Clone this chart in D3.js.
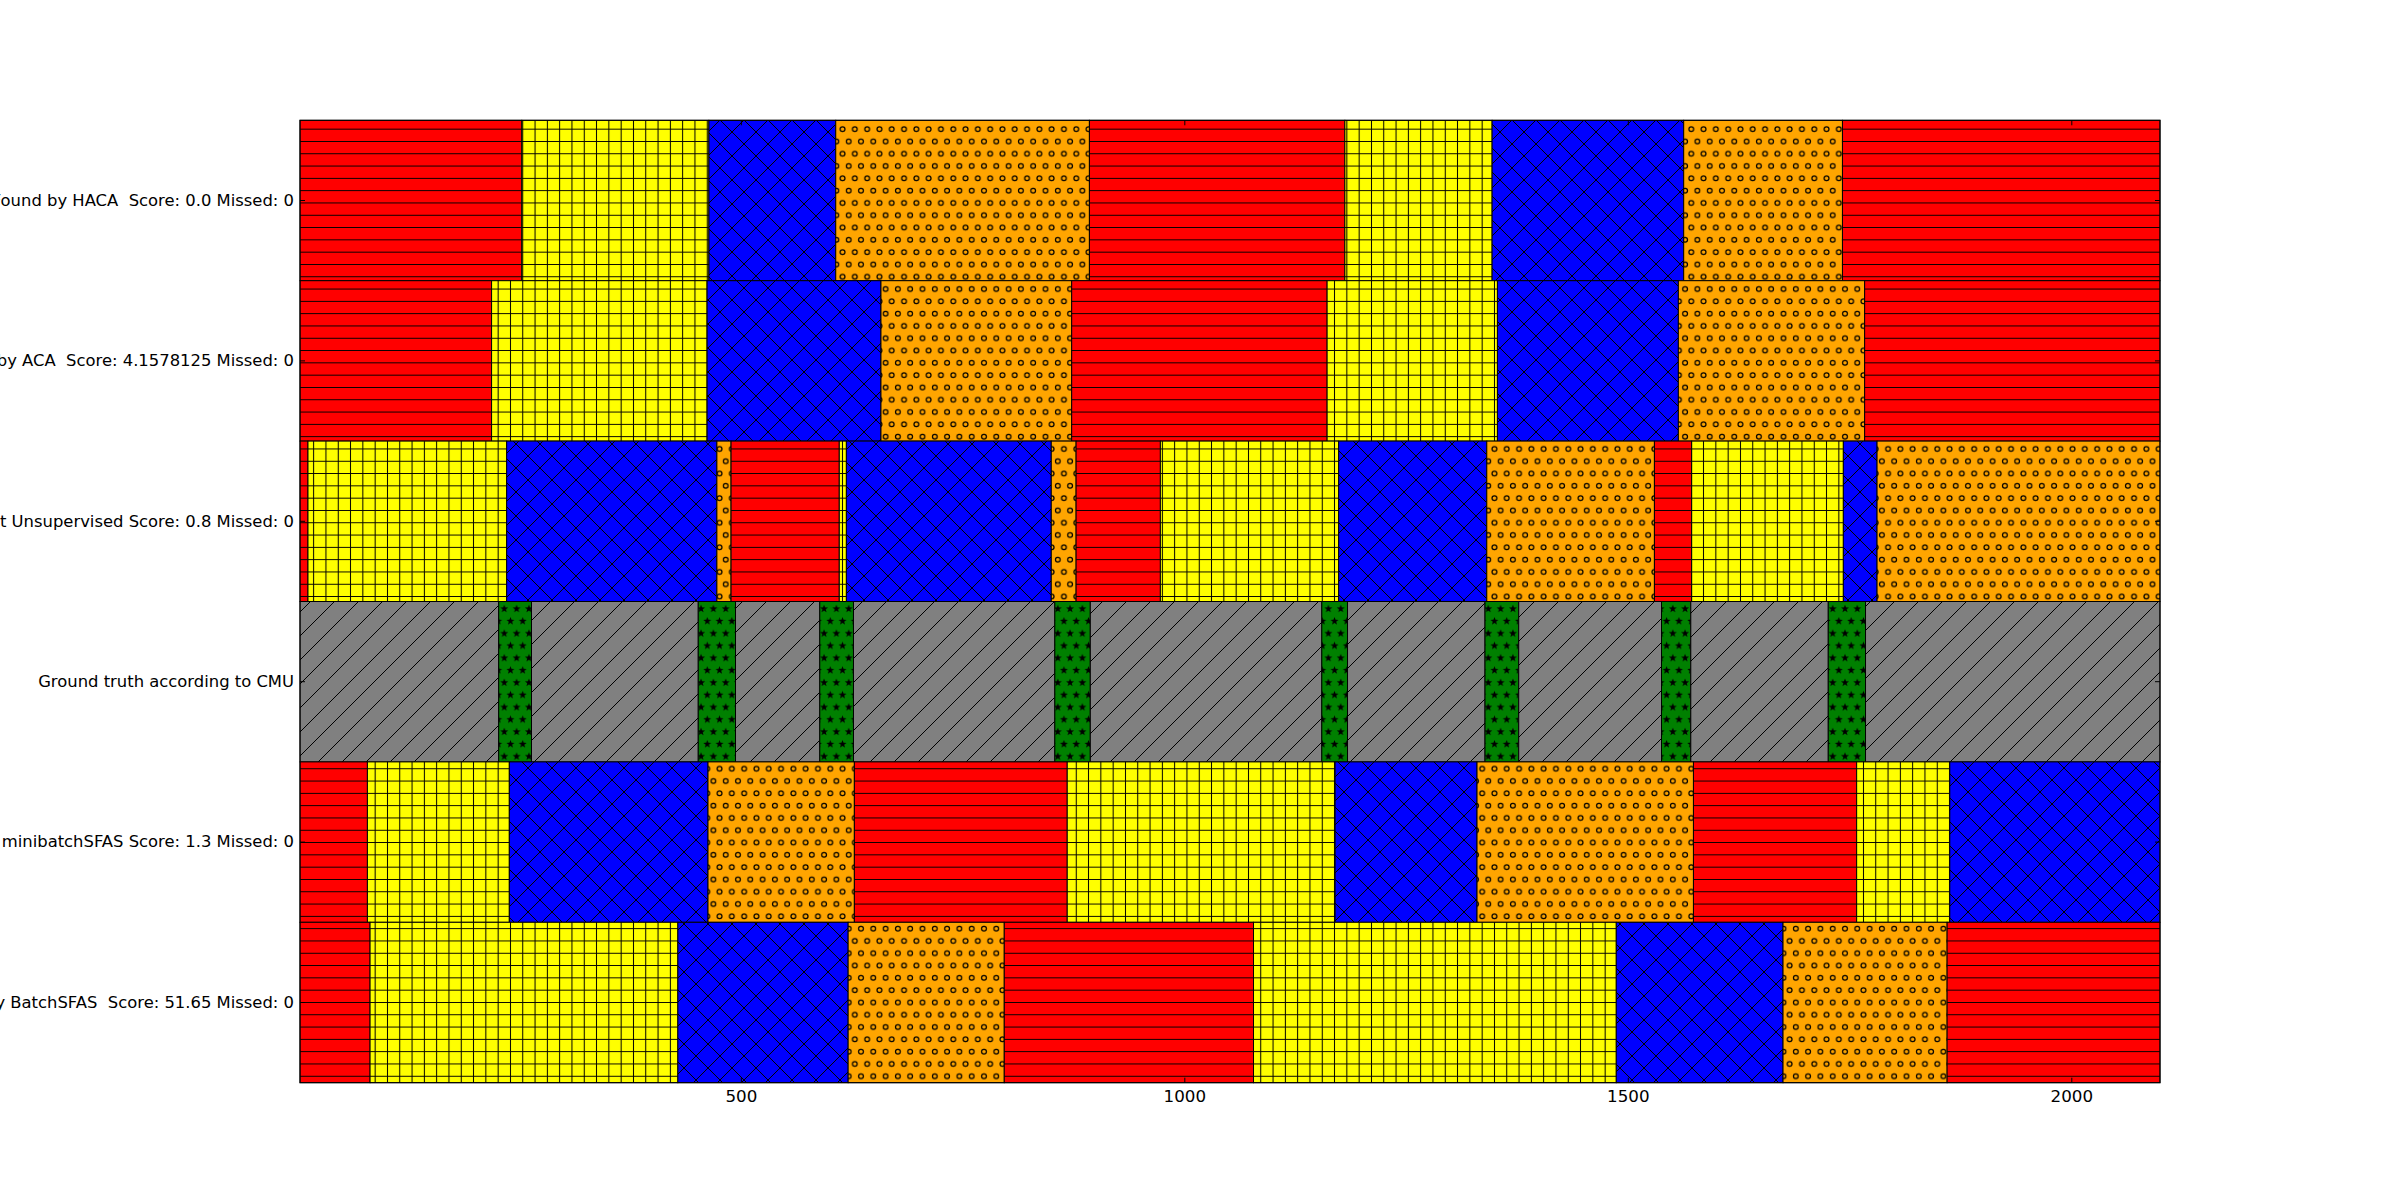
<!DOCTYPE html>
<html>
<head>
<meta charset="utf-8">
<script src="https://cdn.jsdelivr.net/npm/d3@7"></script>
<style>
  html, body { margin: 0; padding: 0; background: #fff; }
  svg { display: block; }
</style>
</head>
<body>
<svg id="chart" width="2400" height="1203"></svg>
<script>
// ---------------- data ----------------
const rowLabels = [
  "Found by HACA  Score: 0.0 Missed: 0",
  "Found by ACA  Score: 4.1578125 Missed: 0",
  "Found by Segment Unsupervised Score: 0.8 Missed: 0",
  "Ground truth according to CMU",
  "Found by minibatchSFAS Score: 1.3 Missed: 0",
  "Found by BatchSFAS  Score: 51.65 Missed: 0"
];
const xStart = 3;
const xEnd = 2100;
const xTicks = [500, 1000, 1500, 2000];

// segment end frames for each row (segments start where the previous one ends)
const hacaEnds = [253, 464, 607, 893, 1181, 1347, 1563, 1742, 2100];
const hacaClusters = [0, 1, 2, 3, 0, 1, 2, 3, 0];
const acaEnds = [219, 462, 658, 873, 1161, 1353, 1557, 1767, 2100];
const acaClusters = [0, 1, 2, 3, 0, 1, 2, 3, 0];
const unsupEnds = [12, 236, 473, 489, 611, 619, 850, 878, 973, 1174, 1341, 1530, 1572, 1743, 1781, 2100];
const unsupClusters = [0, 1, 2, 3, 0, 1, 2, 3, 0, 1, 2, 3, 0, 1, 2, 3];
const truthEnds = [227, 264, 452, 494, 589, 627, 854, 894, 1155, 1184, 1339, 1377, 1538, 1571, 1726, 1768, 2100];
const truthClasses = [4, 5, 4, 5, 4, 5, 4, 5, 4, 5, 4, 5, 4, 5, 4, 5, 4];
const miniEnds = [79, 239, 463, 628, 868, 1170, 1330, 1574, 1758, 1863, 2100];
const miniClusters = [0, 1, 2, 3, 0, 1, 2, 3, 0, 1, 2];
const batchEnds = [82, 429, 621, 797, 1078, 1487, 1675, 1860, 2100];
const batchClusters = [0, 1, 2, 3, 0, 1, 2, 3, 0];

const rowEnds = [hacaEnds, acaEnds, unsupEnds, truthEnds, miniEnds, batchEnds];
const rowClasses = [hacaClusters, acaClusters, unsupClusters, truthClasses, miniClusters, batchClusters];

// ---------------- styles ----------------
const classFill = ["#ff0000", "#ffff00", "#0000ff", "#ffa500", "#808080", "#008000"];
const classHatch = ["-", "+", "x", "o", "/", "*"];

const W = 2400, H = 1203;
const margin = { left: 300, right: 240, top: 120.3, bottom: 120.3 };
const svg = d3.select("#chart");

const x = d3.scaleLinear().domain([xStart, xEnd]).range([margin.left, W - margin.right]);
const y = d3.scaleBand().domain(rowLabels).range([margin.top, H - margin.bottom]).padding(0);

// ---------------- hatch patterns ----------------
const P = 12.3;   // spacing of '-', '+', 'o', '*'
const D = 24;     // spacing of diagonal hatches 'x', '/'
const defs = svg.append("defs");
function starPath(cx, cy, R, r) {
  let p = "";
  for (let i = 0; i < 10; i++) {
    const a = -Math.PI / 2 + i * Math.PI / 5;
    const rr = i % 2 === 0 ? R : r;
    p += (i === 0 ? "M" : "L") + (cx + rr * Math.cos(a)).toFixed(2) + "," + (cy + rr * Math.sin(a)).toFixed(2);
  }
  return p + "Z";
}
classFill.forEach((fill, i) => {
  const h = classHatch[i];
  const diag = (h === "x" || h === "/");
  const tall = (h === "o" || h === "*");
  const pw = diag ? D : P, ph = diag ? D : (tall ? 2 * P : P);
  const pat = defs.append("pattern")
    .attr("id", "hatch" + i)
    .attr("patternUnits", "userSpaceOnUse")
    .attr("width", pw).attr("height", ph);
  pat.append("rect").attr("width", pw).attr("height", ph).attr("fill", fill);
  const lineStyle = s => s.attr("stroke", "#000").attr("stroke-width", 1).attr("fill", "none");
  if (h === "-") {
    pat.append("path").attr("d", `M0,${P / 2}H${P}`).call(lineStyle);
  } else if (h === "+") {
    pat.append("path").attr("d", `M0,${P / 2}H${P}M${P / 2},0V${P}`).call(lineStyle);
  } else if (h === "x") {
    pat.append("path").attr("d", `M-1,-1L${D + 1},${D + 1}M-1,${D + 1}L${D + 1},-1`)
      .call(lineStyle).attr("shape-rendering", "crispEdges");
  } else if (h === "/") {
    pat.append("path").attr("d", `M-1,1L1,-1M0,${D}L${D},0M${D - 1},${D + 1}L${D + 1},${D - 1}`)
      .call(lineStyle).attr("shape-rendering", "crispEdges");
  } else if (h === "o") {
    [[P / 2, P / 2], [0, 1.5 * P], [P, 1.5 * P]].forEach(([cx, cy]) => {
      pat.append("circle").attr("cx", cx).attr("cy", cy).attr("r", 2.4)
        .attr("fill", "none").attr("stroke", "#000").attr("stroke-width", 1.2);
    });
  } else if (h === "*") {
    [[P / 2, P / 2], [0, 1.5 * P], [P, 1.5 * P]].forEach(([cx, cy]) => {
      pat.append("path").attr("d", starPath(cx, cy, 4.2, 1.7)).attr("fill", "#000");
    });
  }
});

// ---------------- bars ----------------
const segments = [];
rowLabels.forEach((label, r) => {
  let start = xStart;
  rowEnds[r].forEach((end, k) => {
    segments.push({ label, start, end, cls: rowClasses[r][k] });
    start = end;
  });
});

svg.append("g").selectAll("rect")
  .data(segments)
  .join("rect")
  .attr("x", d => x(d.start))
  .attr("y", d => y(d.label))
  .attr("width", d => x(d.end) - x(d.start))
  .attr("height", y.bandwidth())
  .attr("fill", d => `url(#hatch${d.cls})`)
  .attr("stroke", "#000")
  .attr("stroke-width", 1);

// ---------------- axes ----------------
const fontFamily = "'DejaVu Sans', sans-serif";
const bottomY = H - margin.bottom, topY = margin.top;
const leftX = margin.left, rightX = W - margin.right;

function styleAxis(size) {
  return g => {
    g.select(".domain").remove();
    g.selectAll(".tick line").attr("stroke", "#000").attr("stroke-width", 1);
    g.selectAll("text").attr("fill", "#000")
      .style("font-family", fontFamily).style("font-size", size)
      .style("white-space", "pre").attr("xml:space", "preserve");
  };
}

svg.append("g").attr("transform", `translate(0,${bottomY})`)
  .call(d3.axisBottom(x).tickValues(xTicks).tickFormat(d3.format("d"))
    .tickSizeInner(-5).tickSizeOuter(0).tickPadding(7.5))
  .call(styleAxis("16.7px"));
svg.append("g").attr("transform", `translate(0,${topY})`)
  .call(d3.axisTop(x).tickValues(xTicks).tickFormat(() => "")
    .tickSizeInner(-5).tickSizeOuter(0))
  .call(styleAxis("16.7px"));
svg.append("g").attr("transform", `translate(${leftX},0)`)
  .call(d3.axisLeft(y).tickSizeInner(-5).tickSizeOuter(0).tickPadding(6))
  .call(styleAxis("16.4px"));
svg.append("g").attr("transform", `translate(${rightX},0)`)
  .call(d3.axisRight(y).tickFormat(() => "").tickSizeInner(-5).tickSizeOuter(0))
  .call(styleAxis("16.4px"));

// frame
svg.append("rect")
  .attr("x", leftX).attr("y", topY)
  .attr("width", rightX - leftX).attr("height", bottomY - topY)
  .attr("fill", "none").attr("stroke", "#000").attr("stroke-width", 1);
</script>
</body>
</html>
